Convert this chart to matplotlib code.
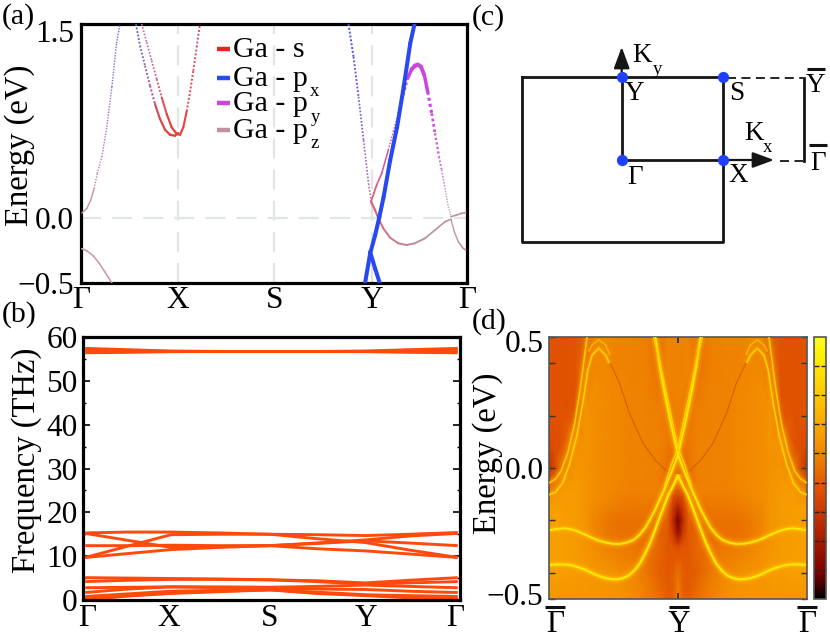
import numpy as np
import matplotlib
matplotlib.use("Agg")
import matplotlib.pyplot as plt
from matplotlib.collections import LineCollection
from matplotlib.colors import LinearSegmentedColormap
from matplotlib.transforms import ScaledTranslation

# --- Fonts ---
plt.rcParams['font.family'] = ['Liberation Serif', 'DejaVu Serif']

W, H = 830, 643
TICK_FS = 22.5
LABEL_FS = 23.5

# --- (a) bands ---
A_TICKS = [0.0, 0.251, 0.501, 0.754, 1.0]
A_LABELS = ['Γ', 'X', 'S', 'Y', 'Γ']
A_YTICKS = [-0.5, 0.0, 1.5]
A_YLABELS = ['−0.5', '0.0', '1.5']

RED, BLUE, PURPLE, MAUVE = '#ee2020', '#2848f0', '#cc44e0', '#c090a0'

g_up_k = [0.002, 0.015, 0.025, 0.034, 0.042, 0.054, 0.067, 0.080, 0.092, 0.101]
g_up_e = [0.041, 0.075, 0.139, 0.229, 0.345, 0.474, 0.706, 1.015, 1.351, 1.5]
g_up_w = [1.1, 1.0, 1.0, 1.0, 1.0, 1.0, 1.0, 1.0, 1.0, 1.0]
g_up_c = ['#c9909a', '#c9909a', '#c98ea5', '#c484ac', '#c080b0', '#b078c0', '#a070c8', '#8a68d0', '#7a60d8']
g_up_d = [0, 0, 0, 1, 1, 1, 1, 1, 1]

g_down_k = [0.002, 0.016, 0.032, 0.046, 0.062, 0.080]
g_down_e = [-0.235, -0.253, -0.291, -0.343, -0.415, -0.5]
g_down_w = [1.2] * 6
g_down_c = ['#c9a0a8'] * 5
g_down_d = [0] * 5

x1_k = [0.1425, 0.1528, 0.1658, 0.1788, 0.1917, 0.2047, 0.2176, 0.2306, 0.2435, 0.2521]
x1_e = [1.5, 1.332, 1.178, 1.024, 0.882, 0.766, 0.684, 0.645, 0.637, 0.658]
x1_w = [1.3, 1.3, 1.3, 1.4, 1.5, 1.6, 1.6, 1.6, 1.6, 1.6]
x1_c = ['#6a58c8', '#7a5cc0', '#9a58a8', '#c05080', '#d84c58', '#e44440', '#e84038', '#e84038', '#e84038']
x1_d = [1, 1, 1, 1, 0, 0, 0, 0, 0]

x2_k = [0.1572, 0.1701, 0.1831, 0.1961, 0.2090, 0.2220, 0.2350, 0.2479, 0.2565, 0.2650, 0.2738, 0.2824, 0.2909, 0.2997, 0.3083]
x2_e = [1.5, 1.358, 1.217, 1.075, 0.934, 0.805, 0.702, 0.651, 0.645, 0.702, 0.826, 0.973, 1.139, 1.320, 1.5]
x2_w = [1.2, 1.2, 1.2, 1.3, 1.4, 1.5, 1.6, 1.6, 1.6, 1.5, 1.4, 1.4, 1.4, 1.4, 1.4]
x2_c = ['#c868a8', '#cc6498', '#d06088', '#d85a70', '#e05058', '#e44440', '#e84038', '#e84038',
        '#e84038', '#e84040', '#e84848', '#e44c50', '#e05060', '#d85070']
x2_d = [1, 1, 1, 1, 0, 0, 0, 0, 0, 0, 1, 1, 1, 1]

y_left_k = [0.693, 0.706, 0.719, 0.732, 0.745, 0.752]
y_left_e = [1.5, 1.247, 0.938, 0.603, 0.268, 0.126]
y_left_w = [1.4, 1.4, 1.3, 1.2, 1.2, 1.2]
y_left_c = ['#5050e8', '#6858e0', '#8060d0', '#a068c0', '#c070a0']
y_left_d = [1, 1, 1, 1, 1]

y_low_k = [0.7513, 0.7617, 0.7703, 0.7832, 0.8005, 0.822, 0.8438, 0.8653, 0.8912, 0.9171, 0.943, 0.9585]
y_low_e = [0.128, 0.064, 0.0, -0.078, -0.150, -0.193, -0.207, -0.193, -0.155, -0.091, -0.027, -0.008]
y_low_w = [1.5, 1.5, 1.4, 1.4, 1.4, 1.4, 1.4, 1.4, 1.3, 1.2, 1.2, 1.2]
y_low_c = ['#d86078', '#d86078', '#d86878', '#d87080', '#d07888', '#c88090', '#c08898',
           '#c08c9c', '#c090a0', '#c090a0', '#c090a0']
y_low_d = [0] * 11

y_up_k = [0.7513, 0.7660, 0.7790, 0.7962, 0.8091, 0.8220, 0.8350, 0.8463, 0.8567, 0.8653, 0.8723,
          0.8808, 0.8894, 0.8982, 0.9085, 0.9171, 0.9275, 0.9344, 0.943, 0.9516, 0.9585]
y_up_e = [0.128, 0.257, 0.347, 0.527, 0.668, 0.810, 0.952, 1.081, 1.150, 1.178, 1.186,
          1.170, 1.106, 0.977, 0.810, 0.656, 0.475, 0.373, 0.231, 0.089, 0.012]
y_up_w = [1.3, 1.3, 1.2, 1.1, 1.1, 1.2, 1.5, 2.2, 2.8, 3.0, 3.0, 2.9, 2.7, 2.3, 2.1, 1.8, 1.5, 1.2, 1.0, 0.9, 0.9]
y_up_c = ['#d86088', '#d86090', '#d058a0', '#cc58b0', '#c858c0', '#c850d0', '#c84cd8',
          PURPLE, PURPLE, PURPLE, PURPLE, PURPLE, PURPLE, PURPLE,
          '#cc50e0', '#cc5cdc', '#cc70d0', '#cc80c8', '#c890b8', '#c898b0']
y_up_d = [0, 0, 0, 1, 1, 1, 1, 0, 0, 0, 0, 0, 0, 1, 1, 1, 1, 1, 1, 1]

blue_k = [0.736, 0.749, 0.762, 0.773, 0.784, 0.801, 0.819, 0.836, 0.853, 0.864]
blue_e = [-0.5, -0.273, -0.131, 0.010, 0.165, 0.448, 0.706, 1.015, 1.351, 1.5]
blue_w = [2.9] * 10
blue_c = [BLUE] * 9
blue_d = [0] * 9

blue2_k = [0.749, 0.762, 0.774]
blue2_e = [-0.26, -0.389, -0.5]
blue2_w = [2.9, 2.9, 2.9]
blue2_c = [BLUE] * 2
blue2_d = [0, 0]

g_end1_k = [0.9585, 0.973, 0.986, 0.9966]
g_end1_e = [0.012, 0.025, 0.038, 0.043]
g_end1_w = [1.2, 1.2, 1.2, 1.2]
g_end1_c = [MAUVE] * 3
g_end1_d = [0, 0, 0]

g_end2_k = [0.9585, 0.967, 0.9775, 0.990, 0.9966]
g_end2_e = [-0.008, -0.104, -0.181, -0.232, -0.245]
g_end2_w = [0.9, 0.9, 1.0, 1.2, 1.2]
g_end2_c = [MAUVE] * 4
g_end2_d = [0, 0, 0, 0]

LEGEND_NAMES = ['Ga - s', 'Ga - p', 'Ga - p', 'Ga - p']
LEGEND_SUBS = ['', 'x', 'y', 'z']
LEGEND_COLORS = [RED, BLUE, PURPLE, MAUVE]

# --- (b) phonons ---
B_NODES = [0.0, 0.115, 0.23, 0.36, 0.496, 0.62, 0.752, 0.87, 1.0]
B_TICKS = [0.005, 0.225, 0.496, 0.753, 0.992]
B_LABELS = ['Γ', 'X', 'S', 'Y', 'Γ']
B_YTICKS = [0, 10, 20, 30, 40, 50, 60]
B_MINOR = [5, 15, 25, 35, 45, 55]

high_1 = [57.4, 57.1, 56.8, 56.7, 56.7, 56.7, 56.8, 57.1, 57.4]
high_2 = [56.9, 56.8, 56.7, 56.7, 56.7, 56.7, 56.7, 56.8, 56.9]
high_3 = [56.4, 56.5, 56.65, 56.7, 56.7, 56.7, 56.65, 56.5, 56.4]
mid_1 = [15.3, 15.5, 15.5, 15.3, 15.0, 14.9, 14.7, 15.0, 15.4]
mid_2 = [15.2, 13.6, 12.0, 12.2, 12.4, 13.0, 13.7, 14.6, 15.2]
mid_3 = [9.7, 12.3, 14.9, 15.0, 15.0, 14.0, 13.1, 11.4, 9.7]
mid_4 = [9.7, 10.6, 11.5, 12.0, 12.4, 11.7, 11.2, 10.5, 9.7]
mid_5 = [12.4, 12.4, 12.5, 12.4, 12.4, 12.9, 13.5, 13.0, 12.4]
low_1 = [5.1, 5.0, 4.9, 4.8, 4.6, 4.4, 3.9, 4.5, 5.1]
low_2 = [4.2, 4.5, 4.7, 4.7, 4.6, 4.2, 3.6, 3.9, 4.2]
low_3 = [2.8, 2.9, 3.0, 3.0, 2.9, 3.1, 3.4, 3.1, 2.8]
low_4 = [1.7, 2.5, 3.0, 2.8, 2.6, 2.5, 2.4, 2.0, 1.7]
low_5 = [0.8, 1.4, 2.0, 2.2, 2.3, 1.8, 1.2, 1.0, 0.8]
low_6 = [0.3, 1.0, 1.6, 2.0, 2.4, 1.6, 1.1, 0.7, 0.3]
low_7 = [0.1, 0.9, 1.5, 1.9, 2.3, 1.5, 1.0, 0.5, 0.1]
PHONONS = [high_1, high_2, high_3, mid_1, mid_2, mid_3, mid_4, mid_5,
           low_1, low_2, low_3, low_4, low_5, low_6, low_7]

# --- (d) surface spectrum, background read on a coarse grid (|k|, E) ---
D_K = [0.0, 0.04, 0.08, 0.15, 0.25, 0.35, 0.45, 0.55, 0.65, 0.72, 0.8, 0.9, 1.0]
D_E = [0.5, 0.4, 0.3, 0.2, 0.1, 0.0, -0.05, -0.1, -0.15, -0.2, -0.25, -0.3, -0.4, -0.5]
D_BG = [
    [.55, .55, .55, .50, .54, .55, .55, .56, .56, .46, .42, .42, .42],
    [.55, .55, .56, .50, .54, .55, .55, .56, .56, .50, .42, .42, .42],
    [.55, .55, .54, .52, .55, .55, .56, .57, .58, .56, .42, .42, .42],
    [.55, .53, .52, .54, .55, .55, .56, .57, .58, .60, .44, .42, .42],
    [.55, .52, .52, .55, .55, .55, .56, .57, .58, .60, .58, .42, .40],
    [.52, .48, .50, .54, .55, .55, .56, .57, .58, .59, .60, .52, .30],
    [.48, .45, .50, .54, .55, .55, .56, .57, .58, .60, .61, .60, .45],
    [.42, .40, .50, .54, .54, .54, .55, .57, .58, .60, .62, .62, .58],
    [.25, .36, .47, .50, .52, .52, .53, .55, .57, .60, .62, .63, .63],
    [.10, .30, .45, .48, .50, .50, .50, .52, .56, .60, .62, .63, .63],
    [.18, .35, .44, .47, .50, .50, .50, .52, .56, .60, .62, .63, .63],
    [.40, .43, .44, .48, .50, .52, .53, .55, .58, .60, .62, .63, .63],
    [.50, .45, .44, .46, .52, .56, .58, .60, .60, .62, .62, .63, .63],
    [.55, .46, .45, .50, .55, .58, .60, .60, .60, .60, .60, .60, .60],
]

wig1_k = [-0.992, -0.93, -0.876, -0.82, -0.773, -0.72, -0.669, -0.62, -0.566, -0.51, -0.45, -0.40, -0.346,
          -0.30, -0.256, -0.217, -0.178, -0.114, -0.049, 0.0, 0.052, 0.104, 0.142, 0.174]
wig1_e = [-0.237, -0.232, -0.230, -0.235, -0.243, -0.254, -0.266, -0.276, -0.284, -0.289, -0.290, -0.285, -0.275,
          -0.256, -0.230, -0.197, -0.160, -0.090, -0.014, 0.051, 0.161, 0.286, 0.387, 0.501]
wig2_k = [-0.992, -0.93, -0.876, -0.82, -0.773, -0.72, -0.669, -0.62, -0.566, -0.52, -0.478, -0.43, -0.385,
          -0.34, -0.295, -0.256, -0.217, -0.178, -0.140, -0.105, -0.075, -0.04, -0.01, 0.0]
wig2_e = [-0.370, -0.368, -0.368, -0.372, -0.379, -0.388, -0.400, -0.411, -0.420, -0.424, -0.425, -0.421, -0.411,
          -0.392, -0.364, -0.328, -0.287, -0.237, -0.186, -0.140, -0.103, -0.070, -0.039, -0.025]
vee_k = [-0.104, -0.052, 0.0, 0.052, 0.104, 0.155, 0.189]
vee_e = [-0.070, 0.013, 0.076, 0.197, 0.317, 0.438, 0.501]
p1_k = [-1.0, -0.951, -0.907, -0.855, -0.803, -0.759, -0.725, -0.705]
p1_e = [-0.057, -0.042, -0.013, 0.057, 0.165, 0.298, 0.425, 0.501]
p2_k = [-1.0, -0.951, -0.894, -0.842, -0.785, -0.738, -0.699, -0.666, -0.614, -0.562, -0.531]
p2_e = [-0.102, -0.093, -0.057, 0.013, 0.121, 0.247, 0.374, 0.431, 0.457, 0.431, 0.400]
arch_k = [-0.692, -0.666, -0.614, -0.562, -0.526]
arch_e = [0.444, 0.470, 0.489, 0.470, 0.431]
dark_k = [-0.531, -0.453, -0.376, -0.272, -0.168, -0.091, -0.052]
dark_e = [0.406, 0.324, 0.209, 0.095, 0.025, -0.009, -0.022]

D_YTICKS = [-0.5, 0.0, 0.5]
D_YLABELS = ['−0.5', '0.0', '0.5']
D_MINOR = [-0.4, -0.2, 0.2, 0.4]
CBAR_TICKS = [i / 9 for i in range(1, 9)]

cmap_d = LinearSegmentedColormap.from_list('surf', [
    (0.0, '#000000'), (0.1, '#7a0000'), (0.25, '#b02000'), (0.4, '#dd4a00'),
    (0.5, '#ea7000'), (0.6, '#f59500'), (0.75, '#ffc000'), (0.9, '#ffe800'), (1.0, '#ffff10')])


def add_axes_px(fig, left, top, right, bottom):
    return fig.add_axes([left / W, 1 - bottom / H, (right - left) / W, (bottom - top) / H])


def fat_band(ax, k, e, widths, colors, dots):
    # segments drawn one by one: width and colour follow the orbital weight
    pts = np.column_stack([k, e])
    segs = np.stack([pts[:-1], pts[1:]], axis=1)
    lw = np.array([(widths[i] + widths[i + 1]) / 2 for i in range(len(k) - 1)])
    cols = np.array(colors)
    mask = np.array(dots, dtype=bool)
    if (~mask).any():
        ax.add_collection(LineCollection(segs[~mask], colors=cols[~mask], linewidths=lw[~mask],
                                         capstyle='round', zorder=3))
    if mask.any():
        ax.add_collection(LineCollection(segs[mask], colors=cols[mask], linewidths=lw[mask],
                                         linestyles=(0, (1.0, 1.0)), capstyle='butt', zorder=3))


def glow(ax, k, e, core='#ffe800', lw=1.5, halo=1.0):
    # bright band with a soft halo, mirrored about Y
    for sign in (1, -1):
        x = sign * np.array(k)
        ax.plot(x, e, color='#ffb000', lw=lw * 5, alpha=0.16 * halo, solid_capstyle='butt', zorder=2)
        ax.plot(x, e, color='#ffc800', lw=lw * 2.6, alpha=0.32 * halo, solid_capstyle='butt', zorder=2)
        ax.plot(x, e, color=core, lw=lw, solid_capstyle='butt', zorder=3)


def shift_label(fig, label, dy_px):
    label.set_transform(label.get_transform() + ScaledTranslation(0, -dy_px / 100, fig.dpi_scale_trans))


fig = plt.figure(figsize=(W / 100, H / 100), dpi=100)

# --- panel (a) ---
ax_a = add_axes_px(fig, 81, 24, 467, 283)
ax_a.set_xlim(0, 1)
ax_a.set_ylim(-0.5, 1.5)
for t in A_TICKS[1:-1]:
    ax_a.axvline(t, color='#dfe6e3', lw=1.6, dashes=(9, 5), zorder=1)
ax_a.axhline(0, color='#dfe6e3', lw=1.6, dashes=(9, 5), zorder=1)
fat_band(ax_a, g_up_k, g_up_e, g_up_w, g_up_c, g_up_d)
fat_band(ax_a, g_down_k, g_down_e, g_down_w, g_down_c, g_down_d)
fat_band(ax_a, x1_k, x1_e, x1_w, x1_c, x1_d)
fat_band(ax_a, x2_k, x2_e, x2_w, x2_c, x2_d)
fat_band(ax_a, y_left_k, y_left_e, y_left_w, y_left_c, y_left_d)
fat_band(ax_a, y_low_k, y_low_e, y_low_w, y_low_c, y_low_d)
fat_band(ax_a, y_up_k, y_up_e, y_up_w, y_up_c, y_up_d)
fat_band(ax_a, g_end1_k, g_end1_e, g_end1_w, g_end1_c, g_end1_d)
fat_band(ax_a, g_end2_k, g_end2_e, g_end2_w, g_end2_c, g_end2_d)
fat_band(ax_a, blue_k, blue_e, blue_w, blue_c, blue_d)
fat_band(ax_a, blue2_k, blue2_e, blue2_w, blue2_c, blue2_d)
ax_a.set_xticks(A_TICKS, A_LABELS, fontsize=TICK_FS)
ax_a.set_yticks(A_YTICKS, A_YLABELS, fontsize=TICK_FS)
ax_a.tick_params(length=0, pad=5)
ax_a.tick_params(axis='x', pad=2)
shift_label(fig, ax_a.get_yticklabels()[2], 7)
for s in ax_a.spines.values():
    s.set_linewidth(2.3)

# --- panel (b) ---
ax_b = add_axes_px(fig, 83, 337, 460, 600)
ax_b.set_xlim(-0.006, 1.006)
ax_b.set_ylim(0, 60)
for line in PHONONS:
    ax_b.plot(B_NODES, line, color='#ff4a0c', lw=2.1, solid_capstyle='butt', zorder=2)
ax_b.set_xticks(B_TICKS, B_LABELS, fontsize=TICK_FS)
ax_b.set_yticks(B_YTICKS, [str(v) for v in B_YTICKS], fontsize=TICK_FS)
ax_b.set_yticks(B_MINOR, minor=True)
ax_b.tick_params(axis='x', length=0, pad=3)
ax_b.tick_params(axis='y', which='major', direction='in', left=True, right=True, length=5, width=1.2, pad=4)
ax_b.tick_params(axis='y', which='minor', direction='in', left=True, right=True, length=2.5, width=1.0)
for s in ax_b.spines.values():
    s.set_linewidth(2.3)

# --- panel (d) ---
ax_d = add_axes_px(fig, 549, 337, 807, 599)
half = np.array(D_BG)
k_half = np.array(D_K)
k_full = np.concatenate([-k_half[:0:-1], k_half])
bg_full = np.hstack([half[:, :0:-1], half])
mesh = ax_d.pcolormesh(k_full, D_E, bg_full, cmap=cmap_d, vmin=0, vmax=1, shading='gouraud', zorder=1)
for sign in (1, -1):
    ax_d.plot(sign * np.array(dark_k), dark_e, color='#d05800', lw=0.8, alpha=0.8, zorder=2)
glow(ax_d, wig2_k, wig2_e, lw=1.6, halo=1.3)
glow(ax_d, wig1_k, wig1_e, lw=1.4, halo=1.3)
glow(ax_d, vee_k, vee_e, core='#ffd000', lw=1.0, halo=0.6)
glow(ax_d, p1_k, p1_e, core='#ffc800', lw=1.1, halo=0.7)
glow(ax_d, p2_k, p2_e, core='#ffd000', lw=1.1, halo=0.7)
glow(ax_d, arch_k, arch_e, core='#ffb800', lw=0.9, halo=0.3)
ax_d.set_xlim(-1, 1)
ax_d.set_ylim(-0.5, 0.5)
ax_d.set_xticks([0], [''])
ax_d.set_yticks(D_YTICKS, D_YLABELS, fontsize=TICK_FS)
ax_d.set_yticks(D_MINOR, minor=True)
ax_d.tick_params(axis='x', direction='in', top=True, bottom=True, length=4.5, width=1.3, color='#333333')
ax_d.tick_params(axis='y', which='both', direction='in', left=True, right=True, length=4.5, width=1.0, color='#333333', pad=4)
labs = ax_d.get_yticklabels()
shift_label(fig, labs[0], -5)
shift_label(fig, labs[2], 4)
for s in ax_d.spines.values():
    s.set_linewidth(1.2)
    s.set_color('#555555')

cax = add_axes_px(fig, 814, 337, 826, 599)
cb = fig.colorbar(mesh, cax=cax)
cb.set_ticks(CBAR_TICKS, labels=[])
cb.ax.tick_params(direction='in', left=True, right=True, length=3.6, width=1.0, color='#222222')
cb.outline.set_linewidth(1.2)
cb.outline.set_edgecolor('#555555')

# --- overlay in pixel coordinates: panel (c), legend, labels ---
ov = fig.add_axes([0, 0, 1, 1], zorder=10)
ov.set_xlim(0, W)
ov.set_ylim(H, 0)
ov.axis('off')
ov.patch.set_alpha(0)

for (lab, x, y) in [('(a)', 2, 17), ('(b)', 2, 315), ('(c)', 472, 18), ('(d)', 472, 322)]:
    ov.text(x, y, lab, fontsize=21.5, ha='left', va='center')

ov.text(20, 145, 'Energy (eV)', fontsize=LABEL_FS, rotation=90, ha='center', va='center')
ov.text(27, 460, 'Frequency (THz)', fontsize=LABEL_FS, rotation=90, ha='center', va='center')
ov.text(488, 453, 'Energy (eV)', fontsize=LABEL_FS, rotation=90, ha='center', va='center')

# legend of (a)
for name, sub, col, y in zip(LEGEND_NAMES, LEGEND_SUBS, LEGEND_COLORS, [49, 78, 103, 130]):
    ov.plot([217, 230], [y, y], color=col, lw=3.2, solid_capstyle='butt')
    ov.text(233, y + 8, name, fontsize=21.5, ha='left', va='baseline')
    if sub:
        ov.text(315, y + 14, sub, fontsize=13.5, ha='center', va='center')

# panel (c)
ov.plot([521.7, 722.7, 722.7, 521.7, 521.7], [77.3, 77.3, 241.7, 241.7, 77.3], color='#151515', lw=2.0)
ov.plot([621.7, 621.7], [77.3, 160], color='#151515', lw=2.0)
ov.plot([621.7, 722.7], [160, 160], color='#151515', lw=2.0)
head = dict(arrowstyle='-|>,head_length=0.65,head_width=0.24', mutation_scale=20,
            color='#151515', lw=1.6, shrinkA=0, shrinkB=0)
ov.annotate('', xy=(621.7, 47), xytext=(621.7, 78), arrowprops=head)
ov.annotate('', xy=(774, 160), xytext=(722, 160), arrowprops=head)
ov.scatter([621.7, 722.7, 621.7, 722.7], [77.3, 77.3, 160, 160], s=50, color='#2040ff', zorder=5)
ov.plot([727, 803], [78, 78], color='#151515', lw=1.3, dashes=(5, 3))
ov.plot([780, 803], [160.5, 160.5], color='#151515', lw=1.3, dashes=(5, 3))
ov.plot([803.5, 803.5], [78, 160.5], color='#151515', lw=2.0)

for lab, x, y in [('Y', 634, 94), ('S', 737, 94), ('Γ', 635, 177), ('X', 738, 175)]:
    ov.text(x, y, lab, fontsize=19.5, ha='center', va='center')
ov.text(642, 55, 'K', fontsize=19.5, ha='center', va='center')
ov.text(657, 69, 'y', fontsize=13.5, ha='center', va='center')
ov.text(754, 133, 'K', fontsize=19.5, ha='center', va='center')
ov.text(768, 148, 'x', fontsize=13.5, ha='center', va='center')


def bar_label(lab, x, y, bar_y, half_w, fs):
    ov.text(x, y, lab, fontsize=fs, ha='center', va='center')
    ov.plot([x - half_w, x + half_w], [bar_y, bar_y], color='#111111', lw=2.2, solid_capstyle='butt')


bar_label('Y', 815.5, 85, 69, 9, 19.5)
bar_label('Γ', 818, 163, 145, 9, 19.5)
bar_label('Γ', 555, 625, 607, 10, TICK_FS)
bar_label('Y', 679, 625, 607, 10, TICK_FS)
bar_label('Γ', 807, 625, 607, 10, TICK_FS)

fig.savefig('out.png', dpi=100)
